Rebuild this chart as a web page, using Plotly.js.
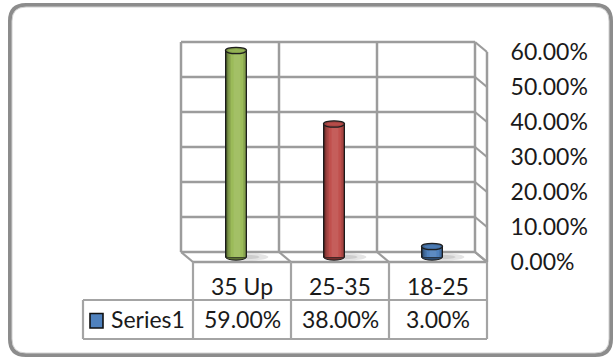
<!DOCTYPE html>
<html>
<head>
<meta charset="utf-8">
<script src="https://cdn.plot.ly/plotly-3.0.1.min.js"></script>
<style>html,body{margin:0;padding:0;background:#fff;}#chart{width:616px;height:360px;}</style>
</head>
<body>
<div id="chart"></div>
<script>
// ---- data ----
const categories = ['35 Up', '25-35', '18-25'];
const values = [0.59, 0.38, 0.03];
const barColors = ['#9BBB59', '#C0504D', '#4F81BD'];
const tickValues = [0, 0.1, 0.2, 0.3, 0.4, 0.5, 0.6];
const seriesName = 'Series1';
const legendColor = '#4F81BD';

// ---- geometry (pixel frame -> data units) ----
const W = 616, H = 360;
const X0PX = 236, UX = 98;   // px of category 0 (mid depth), px per category
const Y0PX = 257, UY = 350;  // px of value 0 (mid depth), px per 100%
const dx = px => (px - X0PX) / UX;
const dy = py => (Y0PX - py) / UY;
const xr = [dx(0), dx(W)];
const yr = [dy(H), dy(0)];
const BX = -6 / UX, BY = 5 / UY;   // back wall offset
const FX = 6 / UX, FY = -5 / UY;   // front plane offset
const HALFW = 10.5 / UX;
const ELL = 3.2 / UY;
const FONT = 'Lato, Open Sans, sans-serif';
const FS = 23;
const TXT = '#1a1a1a';
const GRID = '#9c9c9c';
const TABLE = '#a4a4a4';

function shade(hex, f) {
  const n = parseInt(hex.slice(1), 16);
  let r = (n >> 16) & 255, g = (n >> 8) & 255, b = n & 255;
  if (f <= 1) { r *= f; g *= f; b *= f; }
  else { const t = f - 1; r += (255 - r) * t; g += (255 - g) * t; b += (255 - b) * t; }
  return 'rgb(' + Math.round(r) + ',' + Math.round(g) + ',' + Math.round(b) + ')';
}

// ---- cylinder body as stacked shading stripes ----
const layers = [
  {off: -HALFW, w: 2 * HALFW, f: 0.42, line: true},
  {off: -0.092, w: 0.19, f: 0.68},
  {off: -0.078, w: 0.172, f: 0.86},
  {off: -0.055, w: 0.13, f: 1.0},
  {off: -0.025, w: 0.07, f: 1.08}
];
const traces = layers.map(L => ({
  type: 'bar', x: categories, y: values,
  offset: L.off, width: L.w,
  marker: {color: barColors.map(c => shade(c, L.f)),
           line: {color: L.line ? '#1c1c1c' : 'rgba(0,0,0,0)', width: L.line ? 1 : 0}},
  showlegend: false, hoverinfo: 'skip'
}));
// invisible trace for tick-label axis
traces.push({type: 'scatter', x: [categories[0]], y: [0], yaxis: 'y2', mode: 'none', showlegend: false, hoverinfo: 'skip'});

const shapes = [];
const line = (x0, y0, x1, y1, color, width, layer) =>
  shapes.push({type: 'line', xref: 'x', yref: 'y', x0, y0, x1, y1, layer: layer || 'below',
               line: {color, width}});

// back wall grid
tickValues.forEach(t => line(-0.5 + BX, t + BY, 2.5 + BX, t + BY, GRID, 2.5));
for (let j = 0; j <= 3; j++) line(-0.5 + j + BX, BY, -0.5 + j + BX, 0.6 + BY, GRID, 2.5);
// side wall
tickValues.forEach(t => line(2.5 + BX, t + BY, 2.5 + FX, t + FY, GRID, 2.2));
line(2.5 + FX, FY, 2.5 + FX, 0.6 + FY, GRID, 2.5);
// floor
line(-0.5 + FX, FY, 2.5 + FX, FY, GRID, 2.5);
for (let j = 0; j <= 3; j++) line(-0.5 + j + BX, BY, -0.5 + j + FX, FY, GRID, 2.2);

// floor shadows + cylinder bottoms
categories.forEach((c, i) => {
  shapes.push({type: 'circle', xref: 'x', yref: 'y', layer: 'below',
    x0: i - 0.06, x1: i + 0.33, y0: -ELL * 1.1, y1: ELL * 1.1,
    fillcolor: 'rgba(0,0,0,0.10)', line: {width: 0}});
  shapes.push({type: 'circle', xref: 'x', yref: 'y', layer: 'below',
    x0: i - 0.02, x1: i + 0.24, y0: -ELL * 0.7, y1: ELL * 0.7,
    fillcolor: 'rgba(0,0,0,0.10)', line: {width: 0}});
  shapes.push({type: 'circle', xref: 'x', yref: 'y', layer: 'below',
    x0: i - HALFW, x1: i + HALFW, y0: -ELL, y1: ELL,
    fillcolor: shade(barColors[i], 0.6), line: {color: '#1c1c1c', width: 1}});
});
// cylinder tops
values.forEach((v, i) => {
  shapes.push({type: 'circle', xref: 'x', yref: 'y', layer: 'above',
    x0: i - HALFW, x1: i + HALFW, y0: v - ELL, y1: v + ELL,
    fillcolor: shade(barColors[i], 0.8), line: {color: '#1e1e1e', width: 1.3}});
  shapes.push({type: 'circle', xref: 'x', yref: 'y', layer: 'above',
    x0: i - HALFW + 0.03, x1: i + HALFW - 0.02, y0: v - ELL * 0.55, y1: v + ELL * 0.45,
    fillcolor: shade(barColors[i], 0.95), line: {width: 0}});
});

// data table
const tLeft = dx(83), tRight = 2.5 + FX;
const rMid = dy(300), rBot = dy(339);
line(tLeft, rMid, tRight, rMid, TABLE, 2.2, 'above');
line(tLeft, rBot, tRight, rBot, TABLE, 2.2, 'above');
line(tLeft, rMid, tLeft, rBot, TABLE, 2.2, 'above');
for (let j = 0; j <= 3; j++) line(-0.5 + j + FX, FY, -0.5 + j + FX, rBot, TABLE, 2.2, 'above');
// legend key
shapes.push({type: 'rect', xref: 'x', yref: 'y', layer: 'above',
  x0: dx(90), x1: dx(103), y0: dy(328), y1: dy(313.5),
  fillcolor: legendColor, line: {color: '#111', width: 1.6}});

// outer rounded frame (paper coords)
function roundRect(l, t, r, b, rad) {
  const X = p => p / W, Y = p => 1 - p / H;
  return 'M' + X(l + rad) + ',' + Y(t) +
    ' L' + X(r - rad) + ',' + Y(t) + ' Q' + X(r) + ',' + Y(t) + ' ' + X(r) + ',' + Y(t + rad) +
    ' L' + X(r) + ',' + Y(b - rad) + ' Q' + X(r) + ',' + Y(b) + ' ' + X(r - rad) + ',' + Y(b) +
    ' L' + X(l + rad) + ',' + Y(b) + ' Q' + X(l) + ',' + Y(b) + ' ' + X(l) + ',' + Y(b - rad) +
    ' L' + X(l) + ',' + Y(t + rad) + ' Q' + X(l) + ',' + Y(t) + ' ' + X(l + rad) + ',' + Y(t) + ' Z';
}
shapes.push({type: 'path', xref: 'paper', yref: 'paper', layer: 'above',
  path: roundRect(10, 5, 611, 355, 16), line: {color: '#8c8c8c', width: 4}});
shapes.push({type: 'path', xref: 'paper', yref: 'paper', layer: 'above',
  path: roundRect(12, 7, 609, 353, 14), line: {color: '#d0d0d0', width: 1}});

// table text
const annotations = [];
categories.forEach((c, i) => annotations.push({
  xref: 'x', yref: 'y', x: i + FX, y: dy(286), text: c, showarrow: false,
  xanchor: 'center', yanchor: 'middle', font: {family: FONT, size: FS, color: TXT}}));
values.forEach((v, i) => annotations.push({
  xref: 'x', yref: 'y', x: i + FX, y: dy(319), text: (v * 100).toFixed(2) + '%', showarrow: false,
  xanchor: 'center', yanchor: 'middle', font: {family: FONT, size: FS, color: TXT}}));
annotations.push({xref: 'x', yref: 'y', x: dx(109), y: dy(319), text: seriesName, showarrow: false,
  xanchor: 'left', yanchor: 'middle', font: {family: FONT, size: FS, color: TXT}});

const layout = {
  width: W, height: H,
  margin: {l: 0, r: 0, t: 0, b: 0, pad: 0},
  paper_bgcolor: '#fff', plot_bgcolor: '#fff',
  barmode: 'overlay', showlegend: false,
  xaxis: {type: 'category', range: xr, domain: [0, 1], visible: false, fixedrange: true},
  yaxis: {range: yr, domain: [0, 1], visible: false, fixedrange: true},
  yaxis2: {overlaying: 'y', anchor: 'free', position: 487 / W, side: 'right',
    range: [yr[0] - FY, yr[1] - FY], tickvals: tickValues, tickformat: '.2%',
    ticks: 'outside', ticklen: 18, tickcolor: 'rgba(0,0,0,0)',
    showgrid: false, zeroline: false, showline: false, fixedrange: true,
    tickfont: {family: FONT, size: FS, color: TXT}},
  shapes, annotations
};
Plotly.newPlot('chart', traces, layout, {staticPlot: true, displayModeBar: false});
</script>
</body>
</html>
